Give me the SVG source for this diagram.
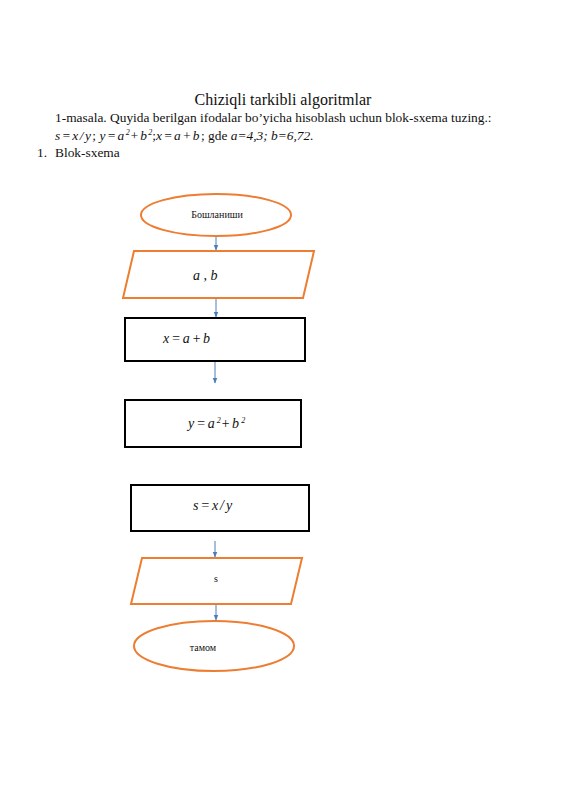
<svg xmlns="http://www.w3.org/2000/svg" width="565" height="800" viewBox="0 0 565 800">
<defs>
<style>
.bg{fill:#ffffff}
.t{font-family:"Liberation Serif","Times New Roman",serif;fill:#111}
.m{font-family:"Liberation Serif","Times New Roman",serif;font-style:italic;fill:#111}
.o{fill:#ffffff;stroke:#ED7D31;stroke-width:2}
.b{fill:#ffffff;stroke:#000000;stroke-width:2}
.c{stroke:#4A7EBB;stroke-width:1;fill:none;marker-end:url(#ah)}
</style>
<marker id="ah" viewBox="0 0 10 10" refX="9" refY="5" markerWidth="6" markerHeight="6" orient="auto" markerUnits="userSpaceOnUse">
<path d="M0,1 L10,5 L0,9 z" fill="#4A7EBB"/>
</marker>
</defs>
<rect class="bg" x="0" y="0" width="565" height="800"/>
<g id="header">
<text class="t" x="283" y="105" font-size="16" text-anchor="middle">Chiziqli tarkibli algoritmlar</text>
<text class="t" x="55" y="122" font-size="13.4">1-masala. Quyida berilgan ifodalar bo’yicha hisoblash uchun blok-sxema  tuzing.:</text>
<text x="55" y="140" font-size="13.4"><tspan class="m" letter-spacing="1.5">s=x/y</tspan><tspan class="t">; </tspan><tspan class="m" letter-spacing="1.5">y=a</tspan><tspan class="m" font-size="8" dy="-5">2</tspan><tspan class="m" dy="5" letter-spacing="1.5">+b</tspan><tspan class="m" font-size="8" dy="-5">2</tspan><tspan class="t" dy="5">;</tspan><tspan class="m" letter-spacing="1.5">x=a+b</tspan><tspan class="t">;  gde </tspan><tspan class="m">a=4,3; b=6,72.</tspan></text>
<text class="t" x="37" y="157" font-size="13.4">1.</text>
<text class="t" x="55" y="157" font-size="13.4">Blok-sxema</text>
</g>
<g id="connectors">
<line class="c" x1="216" y1="236" x2="216" y2="250"/>
<line class="c" x1="216" y1="298" x2="216" y2="317"/>
<line class="c" x1="215" y1="362" x2="215" y2="383"/>
<line class="c" x1="215" y1="541" x2="215" y2="557"/>
<line class="c" x1="216" y1="605" x2="216" y2="620"/>
</g>
<g id="start">
<ellipse class="o" cx="216" cy="215" rx="75" ry="21"/>
<text class="t" x="217" y="218" font-size="10" text-anchor="middle">Бошланиши</text>
</g>
<g id="input">
<polygon class="o" points="134,251 314,251 303,298 123,298"/>
<text class="m" x="193" y="280" font-size="14">a , b</text>
</g>
<g id="calc_x">
<rect class="b" x="125" y="318" width="180" height="43"/>
<text class="m" x="163" y="343" font-size="14" letter-spacing="2">x=a+b</text>
</g>
<g id="calc_y">
<rect class="b" x="125" y="400" width="176" height="47"/>
<text x="188" y="428" font-size="14"><tspan class="m" letter-spacing="2">y=a</tspan><tspan class="m" font-size="8" dy="-5">2</tspan><tspan class="m" dy="5" letter-spacing="2">+b</tspan><tspan class="m" font-size="8" dy="-5">2</tspan></text>
</g>
<g id="calc_s">
<rect class="b" x="131" y="485" width="178" height="46"/>
<text class="m" x="193" y="510" font-size="14" letter-spacing="2">s=x/y</text>
</g>
<g id="output">
<polygon class="o" points="142,558 302,558 291,604 131,604"/>
<text class="t" x="216" y="582" font-size="10" text-anchor="middle">s</text>
</g>
<g id="end">
<ellipse class="o" cx="214" cy="646" rx="80" ry="25"/>
<text class="t" x="203" y="651" font-size="10" text-anchor="middle">тамом</text>
</g>
</svg>
